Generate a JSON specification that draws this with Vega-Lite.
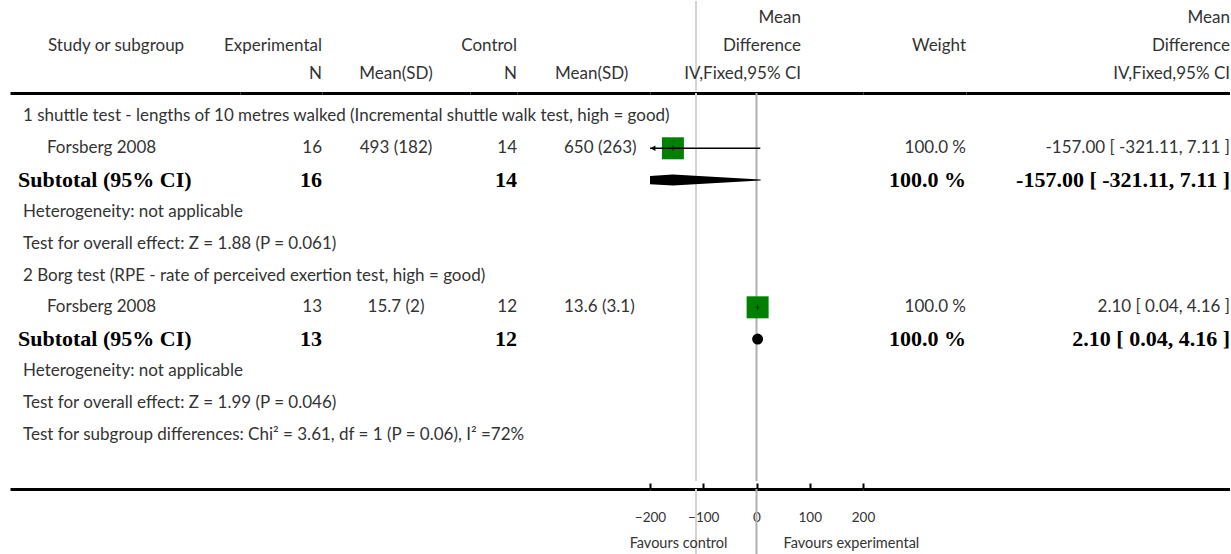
{
"$schema":"https://vega.github.io/schema/vega-lite/v6.json",
"background":"white",
"padding":{"left":10,"top":0,"right":0,"bottom":0},
"bounds":"full","spacing":0,
"config":{"view":{"stroke":null},"text":{"font":"Lato","fontSize":17,"color":"#333"},"axis":{"grid":false}},
"datasets":{
"body":[
{"row":1,"kind":"group","label":"1 shuttle test - lengths of 10 metres walked (Incremental shuttle walk test, high = good)"},
{"row":2,"kind":"study","label":"Forsberg 2008","nE":"16","mE":"493 (182)","nC":"14","mC":"650 (263)","w":"100.0 %","ci":"-157.00 [ -321.11, 7.11 ]","md":-157,"lo":-321.11,"hi":7.11},
{"row":3,"kind":"subtotal","label":"Subtotal (95% CI)","nE":"16","nC":"14","w":"100.0 %","ci":"-157.00 [ -321.11, 7.11 ]","md":-157,"lo":-321.11,"hi":7.11},
{"row":4,"kind":"note","label":"Heterogeneity: not applicable"},
{"row":5,"kind":"note","label":"Test for overall effect: Z = 1.88 (P = 0.061)"},
{"row":6,"kind":"group","label":"2 Borg test (RPE - rate of perceived exertion test, high = good)"},
{"row":7,"kind":"study","label":"Forsberg 2008","nE":"13","mE":"15.7 (2)","nC":"12","mC":"13.6 (3.1)","w":"100.0 %","ci":"2.10 [ 0.04, 4.16 ]","md":2.1,"lo":0.04,"hi":4.16},
{"row":8,"kind":"subtotal","label":"Subtotal (95% CI)","nE":"13","nC":"12","w":"100.0 %","ci":"2.10 [ 0.04, 4.16 ]","md":2.1,"lo":0.04,"hi":4.16},
{"row":9,"kind":"note","label":"Heterogeneity: not applicable"},
{"row":10,"kind":"note","label":"Test for overall effect: Z = 1.99 (P = 0.046)"},
{"row":11,"kind":"note","label":"Test for subgroup differences: Chi² = 3.61, df = 1 (P = 0.06), I² =72%"}
],
"head":[
{"r":"h1","c":"c6","t":"Mean"},{"r":"h1","c":"c8","t":"Mean"},
{"r":"h2","c":"c1","t":"Study or subgroup"},{"r":"h2","c":"c2","t":"Experimental"},{"r":"h2","c":"c4","t":"Control"},{"r":"h2","c":"c6","t":"Difference"},{"r":"h2","c":"c7","t":"Weight"},{"r":"h2","c":"c8","t":"Difference"},
{"r":"h3","c":"c2","t":"N"},{"r":"h3","c":"c3","t":"Mean(SD)"},{"r":"h3","c":"c4","t":"N"},{"r":"h3","c":"c5","t":"Mean(SD)"},{"r":"h3","c":"c6","t":"IV,Fixed,95% CI"},{"r":"h3","c":"c8","t":"IV,Fixed,95% CI"}
],
"fav":[{"side":"control","t":"Favours control"},{"side":"experimental","t":"Favours experimental"}]
},
"vconcat":[
{"bounds":"flush","spacing":0,"hconcat":[
 {"width":230,"height":90,"data":{"name":"head"},"transform":[{"filter":"datum.c=='c1'"}],"mark":{"type":"text","align":"left","dx":38},
  "encoding":{"x":{"datum":"c1","type":"nominal","bandPosition":0,"scale":{"type":"band","paddingInner":0,"paddingOuter":0},"axis":null},
  "y":{"field":"r","type":"nominal","scale":{"type":"band","domain":["h1","h2","h3"],"paddingInner":0,"paddingOuter":0.107,"align":0.417},"axis":null},"text":{"field":"t"}}},
 {"width":82,"height":90,"data":{"name":"head"},"transform":[{"filter":"datum.c=='c2'"}],"mark":{"type":"text","align":"right"},
  "encoding":{"x":{"datum":"c2","type":"nominal","bandPosition":1,"scale":{"type":"band","paddingInner":0,"paddingOuter":0},"axis":null},
  "y":{"field":"r","type":"nominal","scale":{"type":"band","domain":["h1","h2","h3"],"paddingInner":0,"paddingOuter":0.107,"align":0.417},"axis":null},"text":{"field":"t"}}},
 {"width":148,"height":90,"data":{"name":"head"},"transform":[{"filter":"datum.c=='c3'"}],"mark":{"type":"text","align":"center"},
  "encoding":{"x":{"datum":"c3","type":"nominal","bandPosition":0.5,"scale":{"type":"band","paddingInner":0,"paddingOuter":0},"axis":null},
  "y":{"field":"r","type":"nominal","scale":{"type":"band","domain":["h1","h2","h3"],"paddingInner":0,"paddingOuter":0.107,"align":0.417},"axis":null},"text":{"field":"t"}}},
 {"width":47,"height":90,"data":{"name":"head"},"transform":[{"filter":"datum.c=='c4'"}],"mark":{"type":"text","align":"right"},
  "encoding":{"x":{"datum":"c4","type":"nominal","bandPosition":1,"scale":{"type":"band","paddingInner":0,"paddingOuter":0},"axis":null},
  "y":{"field":"r","type":"nominal","scale":{"type":"band","domain":["h1","h2","h3"],"paddingInner":0,"paddingOuter":0.107,"align":0.417},"axis":null},"text":{"field":"t"}}},
 {"width":133,"height":90,"data":{"name":"head"},"transform":[{"filter":"datum.c=='c5'"}],"mark":{"type":"text","align":"left","dx":38},
  "encoding":{"x":{"datum":"c5","type":"nominal","bandPosition":0,"scale":{"type":"band","paddingInner":0,"paddingOuter":0},"axis":null},
  "y":{"field":"r","type":"nominal","scale":{"type":"band","domain":["h1","h2","h3"],"paddingInner":0,"paddingOuter":0.107,"align":0.417},"axis":null},"text":{"field":"t"}}},
 {"width":213,"height":90,"layer":[
  {"data":{"values":[{}]},"mark":{"type":"rule","color":"#d4d4d4","strokeWidth":2},
   "encoding":{"x":{"datum":-113.6,"type":"quantitative","scale":{"domain":[-200,200],"nice":false,"zero":false},"axis":null}}},
  {"data":{"name":"head"},"transform":[{"filter":"datum.c=='c6'"}],"mark":{"type":"text","align":"right","dx":-62},
   "encoding":{"x":{"datum":200,"type":"quantitative","scale":{"domain":[-200,200],"nice":false,"zero":false},"axis":null},
   "y":{"field":"r","type":"nominal","scale":{"type":"band","domain":["h1","h2","h3"],"paddingInner":0,"paddingOuter":0.107,"align":0.417},"axis":null},"text":{"field":"t"}}}
 ]},
 {"width":103,"height":90,"data":{"name":"head"},"transform":[{"filter":"datum.c=='c7'"}],"mark":{"type":"text","align":"right"},
  "encoding":{"x":{"datum":"c7","type":"nominal","bandPosition":1,"scale":{"type":"band","paddingInner":0,"paddingOuter":0},"axis":null},
  "y":{"field":"r","type":"nominal","scale":{"type":"band","domain":["h1","h2","h3"],"paddingInner":0,"paddingOuter":0.107,"align":0.417},"axis":null},"text":{"field":"t"}}},
 {"width":264,"height":90,"data":{"name":"head"},"transform":[{"filter":"datum.c=='c8'"}],"mark":{"type":"text","align":"right"},
  "encoding":{"x":{"datum":"c8","type":"nominal","bandPosition":1,"scale":{"type":"band","paddingInner":0,"paddingOuter":0},"axis":null},
  "y":{"field":"r","type":"nominal","scale":{"type":"band","domain":["h1","h2","h3"],"paddingInner":0,"paddingOuter":0.107,"align":0.417},"axis":null},"text":{"field":"t"}}}
]},
{"bounds":"flush","spacing":0,"hconcat":[
 {"width":230,"height":388,"data":{"name":"body"},
  "encoding":{"x":{"datum":"label","type":"nominal","bandPosition":0,"scale":{"type":"band","paddingInner":0,"paddingOuter":0},"axis":{"orient":"top","labels":false,"ticks":false,"grid":false,"title":null,"domainColor":"#000","domainWidth":3}},
  "y":{"field":"row","type":"ordinal","scale":{"type":"band","domain":[1,2,3,4,5,6,7,8,9,10,11],"paddingInner":0,"paddingOuter":0.6,"align":0.199},"axis":null},"text":{"field":"label"}},
  "layer":[
   {"transform":[{"filter":"datum.kind=='group' || datum.kind=='note'"}],"mark":{"type":"text","align":"left","dx":13}},
   {"transform":[{"filter":"datum.kind=='study'"}],"mark":{"type":"text","align":"left","dx":37}},
   {"transform":[{"filter":"datum.kind=='subtotal'"}],"mark":{"type":"text","align":"left","dx":8,"font":"Liberation Serif","fontWeight":"bold","fontSize":22,"color":"#000"}}
  ]},
 {"width":82,"height":388,"data":{"name":"body"},
  "encoding":{"x":{"datum":"nE","type":"nominal","bandPosition":1,"scale":{"type":"band","paddingInner":0,"paddingOuter":0},"axis":{"orient":"top","labels":false,"ticks":false,"grid":false,"title":null,"domainColor":"#000","domainWidth":3}},
  "y":{"field":"row","type":"ordinal","scale":{"type":"band","domain":[1,2,3,4,5,6,7,8,9,10,11],"paddingInner":0,"paddingOuter":0.6,"align":0.199},"axis":null},"text":{"field":"nE"}},
  "layer":[
   {"transform":[{"filter":"datum.kind=='study'"}],"mark":{"type":"text","align":"right"}},
   {"transform":[{"filter":"datum.kind=='subtotal'"}],"mark":{"type":"text","align":"right","font":"Liberation Serif","fontWeight":"bold","fontSize":22,"color":"#000"}}
  ]},
 {"width":148,"height":388,"data":{"name":"body"},"transform":[{"filter":"datum.kind=='study'"}],"mark":{"type":"text","align":"center"},
  "encoding":{"x":{"datum":"mE","type":"nominal","bandPosition":0.5,"scale":{"type":"band","paddingInner":0,"paddingOuter":0},"axis":{"orient":"top","labels":false,"ticks":false,"grid":false,"title":null,"domainColor":"#000","domainWidth":3}},
  "y":{"field":"row","type":"ordinal","scale":{"type":"band","domain":[1,2,3,4,5,6,7,8,9,10,11],"paddingInner":0,"paddingOuter":0.6,"align":0.199},"axis":null},"text":{"field":"mE"}}},
 {"width":47,"height":388,"data":{"name":"body"},
  "encoding":{"x":{"datum":"nC","type":"nominal","bandPosition":1,"scale":{"type":"band","paddingInner":0,"paddingOuter":0},"axis":{"orient":"top","labels":false,"ticks":false,"grid":false,"title":null,"domainColor":"#000","domainWidth":3}},
  "y":{"field":"row","type":"ordinal","scale":{"type":"band","domain":[1,2,3,4,5,6,7,8,9,10,11],"paddingInner":0,"paddingOuter":0.6,"align":0.199},"axis":null},"text":{"field":"nC"}},
  "layer":[
   {"transform":[{"filter":"datum.kind=='study'"}],"mark":{"type":"text","align":"right"}},
   {"transform":[{"filter":"datum.kind=='subtotal'"}],"mark":{"type":"text","align":"right","font":"Liberation Serif","fontWeight":"bold","fontSize":22,"color":"#000"}}
  ]},
 {"width":133,"height":388,"data":{"name":"body"},"transform":[{"filter":"datum.kind=='study'"}],"mark":{"type":"text","align":"left","dx":47},
  "encoding":{"x":{"datum":"mC","type":"nominal","bandPosition":0,"scale":{"type":"band","paddingInner":0,"paddingOuter":0},"axis":{"orient":"top","labels":false,"ticks":false,"grid":false,"title":null,"domainColor":"#000","domainWidth":3}},
  "y":{"field":"row","type":"ordinal","scale":{"type":"band","domain":[1,2,3,4,5,6,7,8,9,10,11],"paddingInner":0,"paddingOuter":0.6,"align":0.199},"axis":null},"text":{"field":"mC"}}},
 {"width":213,"height":388,"layer":[
  {"data":{"values":[{}]},"mark":{"type":"rule","color":"#b0b0b0","strokeWidth":2},
   "encoding":{"x":{"datum":0,"type":"quantitative","scale":{"domain":[-200,200],"nice":false,"zero":false},"axis":{"orient":"top","labels":false,"ticks":false,"grid":false,"title":null,"domainColor":"#000","domainWidth":3}}}},
  {"data":{"values":[{}]},"mark":{"type":"rule","color":"#d4d4d4","strokeWidth":2},
   "encoding":{"x":{"datum":-113.6,"type":"quantitative","scale":{"domain":[-200,200],"nice":false,"zero":false},"axis":{"orient":"top","labels":false,"ticks":false,"grid":false,"title":null,"domainColor":"#000","domainWidth":3}}}},
  {"data":{"name":"body"},"transform":[{"filter":"datum.kind=='study'"}],"mark":{"type":"square","filled":true,"color":"#008000","opacity":1,"size":484},
   "encoding":{"x":{"field":"md","type":"quantitative","scale":{"domain":[-200,200],"nice":false,"zero":false},"axis":{"orient":"top","labels":false,"ticks":false,"grid":false,"title":null,"domainColor":"#000","domainWidth":3}},
   "y":{"field":"row","type":"ordinal","scale":{"type":"band","domain":[1,2,3,4,5,6,7,8,9,10,11],"paddingInner":0,"paddingOuter":0.6,"align":0.199},"axis":null}}},
  {"data":{"name":"body"},"transform":[{"filter":"datum.kind=='study'"}],"mark":{"type":"rule","color":"#000","strokeWidth":1.5,"clip":true},
   "encoding":{"x":{"field":"lo","type":"quantitative","scale":{"domain":[-200,200],"nice":false,"zero":false},"axis":{"orient":"top","labels":false,"ticks":false,"grid":false,"title":null,"domainColor":"#000","domainWidth":3}},"x2":{"field":"hi"},
   "y":{"field":"row","type":"ordinal","scale":{"type":"band","domain":[1,2,3,4,5,6,7,8,9,10,11],"paddingInner":0,"paddingOuter":0.6,"align":0.199},"axis":null}}},
  {"data":{"name":"body"},"transform":[{"filter":"datum.kind=='study'"}],"mark":{"type":"tick","orient":"vertical","size":5,"thickness":1,"color":"#000"},
   "encoding":{"x":{"field":"md","type":"quantitative","scale":{"domain":[-200,200],"nice":false,"zero":false},"axis":{"orient":"top","labels":false,"ticks":false,"grid":false,"title":null,"domainColor":"#000","domainWidth":3}},
   "y":{"field":"row","type":"ordinal","scale":{"type":"band","domain":[1,2,3,4,5,6,7,8,9,10,11],"paddingInner":0,"paddingOuter":0.6,"align":0.199},"axis":null}}},
  {"data":{"name":"body"},"transform":[{"filter":"datum.kind=='study' && datum.lo < -200"}],"mark":{"type":"point","shape":"triangle-left","filled":true,"color":"#000","opacity":1,"size":30,"xOffset":3},
   "encoding":{"x":{"datum":-200,"type":"quantitative","scale":{"domain":[-200,200],"nice":false,"zero":false},"axis":{"orient":"top","labels":false,"ticks":false,"grid":false,"title":null,"domainColor":"#000","domainWidth":3}},
   "y":{"field":"row","type":"ordinal","scale":{"type":"band","domain":[1,2,3,4,5,6,7,8,9,10,11],"paddingInner":0,"paddingOuter":0.6,"align":0.199},"axis":null}}},
  {"data":{"name":"body"},"transform":[{"filter":"datum.kind=='subtotal'"},{"fold":["lo","md","hi"]}],"mark":{"type":"trail","color":"#000","clip":true},
   "encoding":{"x":{"field":"value","type":"quantitative","scale":{"domain":[-200,200],"nice":false,"zero":false},"axis":{"orient":"top","labels":false,"ticks":false,"grid":false,"title":null,"domainColor":"#000","domainWidth":3}},
   "y":{"field":"row","type":"ordinal","scale":{"type":"band","domain":[1,2,3,4,5,6,7,8,9,10,11],"paddingInner":0,"paddingOuter":0.6,"align":0.199},"axis":null},
   "detail":{"field":"row","type":"ordinal"},"order":{"field":"value","type":"quantitative"},
   "size":{"condition":{"test":"datum.key=='md'","value":11},"value":0}}}
 ]},
 {"width":103,"height":388,"data":{"name":"body"},
  "encoding":{"x":{"datum":"w","type":"nominal","bandPosition":1,"scale":{"type":"band","paddingInner":0,"paddingOuter":0},"axis":{"orient":"top","labels":false,"ticks":false,"grid":false,"title":null,"domainColor":"#000","domainWidth":3}},
  "y":{"field":"row","type":"ordinal","scale":{"type":"band","domain":[1,2,3,4,5,6,7,8,9,10,11],"paddingInner":0,"paddingOuter":0.6,"align":0.199},"axis":null},"text":{"field":"w"}},
  "layer":[
   {"transform":[{"filter":"datum.kind=='study'"}],"mark":{"type":"text","align":"right"}},
   {"transform":[{"filter":"datum.kind=='subtotal'"}],"mark":{"type":"text","align":"right","font":"Liberation Serif","fontWeight":"bold","fontSize":22,"color":"#000"}}
  ]},
 {"width":264,"height":388,"data":{"name":"body"},
  "encoding":{"x":{"datum":"ci","type":"nominal","bandPosition":1,"scale":{"type":"band","paddingInner":0,"paddingOuter":0},"axis":{"orient":"top","labels":false,"ticks":false,"grid":false,"title":null,"domainColor":"#000","domainWidth":3}},
  "y":{"field":"row","type":"ordinal","scale":{"type":"band","domain":[1,2,3,4,5,6,7,8,9,10,11],"paddingInner":0,"paddingOuter":0.6,"align":0.199},"axis":null},"text":{"field":"ci"}},
  "layer":[
   {"transform":[{"filter":"datum.kind=='study'"}],"mark":{"type":"text","align":"right"}},
   {"transform":[{"filter":"datum.kind=='subtotal'"}],"mark":{"type":"text","align":"right","font":"Liberation Serif","fontWeight":"bold","fontSize":22,"color":"#000"}}
  ]}
]},
{"bounds":"flush","spacing":0,"hconcat":[
 {"width":640,"height":66,"data":{"values":[]},"mark":"text",
  "encoding":{"x":{"datum":"f","type":"nominal","scale":{"type":"band","domain":["f"],"paddingInner":0,"paddingOuter":0},"axis":{"orient":"top","labels":false,"ticks":false,"grid":false,"title":null,"domainColor":"#000","domainWidth":3}}}},
 {"width":213,"height":66,"layer":[
  {"data":{"values":[{}]},"mark":{"type":"rule","color":"#b0b0b0","strokeWidth":2},
   "encoding":{"x":{"datum":0,"type":"quantitative","scale":{"domain":[-200,200],"nice":false,"zero":false},"axis":{"orient":"top","values":[-200,-100,0,100,200],"ticks":true,"tickSize":6,"tickWidth":2,"tickColor":"#000","labels":true,"labelPadding":-34,"labelBaseline":"middle","labelFont":"Lato","labelFontSize":13.5,"labelColor":"#333","labelFlush":false,"labelOverlap":false,"domainColor":"#000","domainWidth":3,"title":null,"grid":false}}}},
  {"data":{"values":[{}]},"mark":{"type":"rule","color":"#d4d4d4","strokeWidth":2},
   "encoding":{"x":{"datum":-113.6,"type":"quantitative","scale":{"domain":[-200,200],"nice":false,"zero":false},"axis":{"orient":"top","values":[-200,-100,0,100,200],"ticks":true,"tickSize":6,"tickWidth":2,"tickColor":"#000","labels":true,"labelPadding":-34,"labelBaseline":"middle","labelFont":"Lato","labelFontSize":13.5,"labelColor":"#333","labelFlush":false,"labelOverlap":false,"domainColor":"#000","domainWidth":3,"title":null,"grid":false}}}},
  {"data":{"name":"fav"},"transform":[{"filter":"datum.side=='control'"}],"mark":{"type":"text","align":"right","dx":-29,"fontSize":14.5},
   "encoding":{"x":{"datum":0,"type":"quantitative","scale":{"domain":[-200,200],"nice":false,"zero":false},"axis":{"orient":"top","values":[-200,-100,0,100,200],"ticks":true,"tickSize":6,"tickWidth":2,"tickColor":"#000","labels":true,"labelPadding":-34,"labelBaseline":"middle","labelFont":"Lato","labelFontSize":13.5,"labelColor":"#333","labelFlush":false,"labelOverlap":false,"domainColor":"#000","domainWidth":3,"title":null,"grid":false}},
   "y":{"datum":"fav","type":"nominal","scale":{"type":"band","domain":["fav"],"paddingInner":0,"paddingOuter":1.44,"align":1},"axis":null},"text":{"field":"t"}}},
  {"data":{"name":"fav"},"transform":[{"filter":"datum.side=='experimental'"}],"mark":{"type":"text","align":"left","dx":27,"fontSize":14.5},
   "encoding":{"x":{"datum":0,"type":"quantitative","scale":{"domain":[-200,200],"nice":false,"zero":false},"axis":{"orient":"top","values":[-200,-100,0,100,200],"ticks":true,"tickSize":6,"tickWidth":2,"tickColor":"#000","labels":true,"labelPadding":-34,"labelBaseline":"middle","labelFont":"Lato","labelFontSize":13.5,"labelColor":"#333","labelFlush":false,"labelOverlap":false,"domainColor":"#000","domainWidth":3,"title":null,"grid":false}},
   "y":{"datum":"fav","type":"nominal","scale":{"type":"band","domain":["fav"],"paddingInner":0,"paddingOuter":1.44,"align":1},"axis":null},"text":{"field":"t"}}}
 ]},
 {"width":367,"height":66,"data":{"values":[]},"mark":"text",
  "encoding":{"x":{"datum":"g","type":"nominal","scale":{"type":"band","domain":["g"],"paddingInner":0,"paddingOuter":0},"axis":{"orient":"top","labels":false,"ticks":false,"grid":false,"title":null,"domainColor":"#000","domainWidth":3}}}}
]}
]
}
